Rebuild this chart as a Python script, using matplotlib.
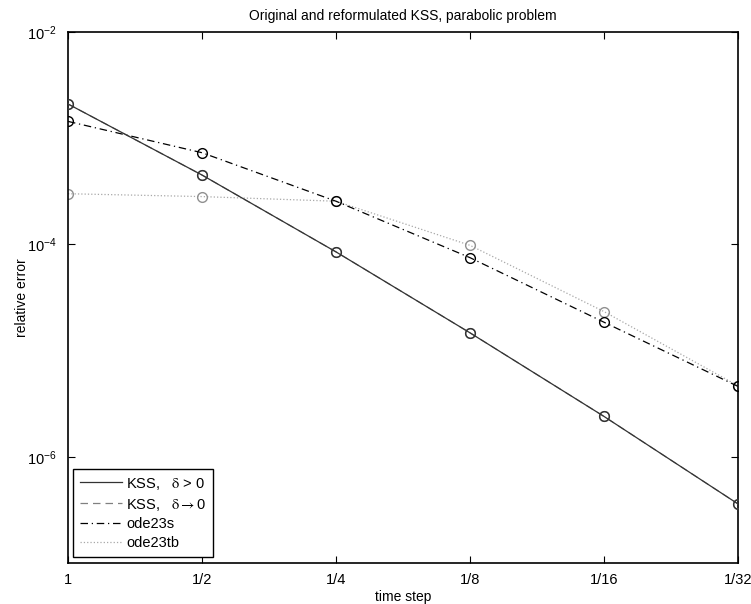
import matplotlib
matplotlib.use("Agg")
import matplotlib.pyplot as plt
from matplotlib.ticker import FixedLocator, FixedFormatter, NullLocator

plt.rcParams['font.family'] = ['Liberation Sans', 'DejaVu Sans']
plt.rcParams['mathtext.fontset'] = 'stix'

steps = [1, 1/2, 1/4, 1/8, 1/16, 1/32]
step_labels = ["1", "1/2", "1/4", "1/8", "1/16", "1/32"]

kss_pos = [2.1e-3, 4.5e-4, 8.5e-5, 1.47e-5, 2.4e-6, 3.6e-7]
kss_zero = [2.1e-3, 4.5e-4, 8.5e-5, 1.47e-5, 2.4e-6, 3.6e-7]
ode23s = [1.44e-3, 7.3e-4, 2.55e-4, 7.5e-5, 1.85e-5, 4.6e-6]
ode23tb = [3.0e-4, 2.82e-4, 2.55e-4, 9.8e-5, 2.33e-5, 4.66e-6]

fig = plt.figure(figsize=(7.51, 6.04), dpi=100)
ax = fig.add_axes([68/751, 1-563/604, (738-68)/751, (563-32)/604])

ms = 7
ax.plot(steps, ode23tb, linestyle=':', color='#a8a8a8', lw=0.9, marker='o',
        mfc='none', mec='#909090', ms=ms, label='ode23tb', zorder=2)
ax.plot(steps, ode23s, linestyle=(0, (6, 3, 1, 3)), color='black', lw=0.9, marker='o',
        mfc='none', mec='black', ms=ms, label='ode23s', zorder=3)
ax.plot(steps, kss_zero, linestyle=(0, (6, 4)), color='#808080', lw=0.9, marker='o',
        mfc='none', mec='#808080', ms=ms, label=r'KSS,   $\mathrm{\delta}\rightarrow$0', zorder=3)
ax.plot(steps, kss_pos, linestyle='-', color='#333333', lw=0.9, marker='o',
        mfc='none', mec='#333333', ms=ms, label=r'KSS,   $\mathrm{\delta}$ > 0', zorder=4)

ax.set_xscale('log', base=2)
ax.set_yscale('log')
ax.set_xlim(1, 1/32)
ax.set_ylim(1e-7, 1e-2)
ax.xaxis.set_major_locator(FixedLocator(steps))
ax.xaxis.set_major_formatter(FixedFormatter(step_labels))
ax.xaxis.set_minor_locator(NullLocator())
ax.yaxis.set_major_locator(FixedLocator([1e-6, 1e-4, 1e-2]))
ax.yaxis.set_minor_locator(NullLocator())
ax.tick_params(direction='in', length=5, width=0.8, top=True, right=True,
               labelsize=10.5)
ax.tick_params(axis='x', pad=7)
ax.tick_params(axis='y', pad=8)
for s in ax.spines.values():
    s.set_linewidth(1.2)

ax.set_title('Original and reformulated KSS, parabolic problem', fontsize=10, pad=8.5)
ax.set_xlabel('time step', fontsize=10)
ax.set_ylabel('relative error', fontsize=10)
ax.xaxis.set_label_coords(0.5, (563-597)/531, transform=ax.transAxes)
ax.yaxis.set_label_coords((22-68)/670, 0.5, transform=ax.transAxes)
ax.xaxis.label.set_va('center')
ax.yaxis.label.set_va('center')

h, l = ax.get_legend_handles_labels()
order = [3, 2, 1, 0]
leg = ax.legend([h[i] for i in order], [l[i] for i in order], loc='lower left',
                bbox_to_anchor=(5/670, 6/531), fancybox=False, edgecolor='black',
                framealpha=1, fontsize=10.5, handlelength=2.9, handletextpad=0.3,
                borderpad=0.45, labelspacing=0.34, borderaxespad=0)
leg.get_frame().set_linewidth(1.0)
for lh in leg.legend_handles:
    lh.set_marker('')

fig.savefig('out.png', dpi=100)
